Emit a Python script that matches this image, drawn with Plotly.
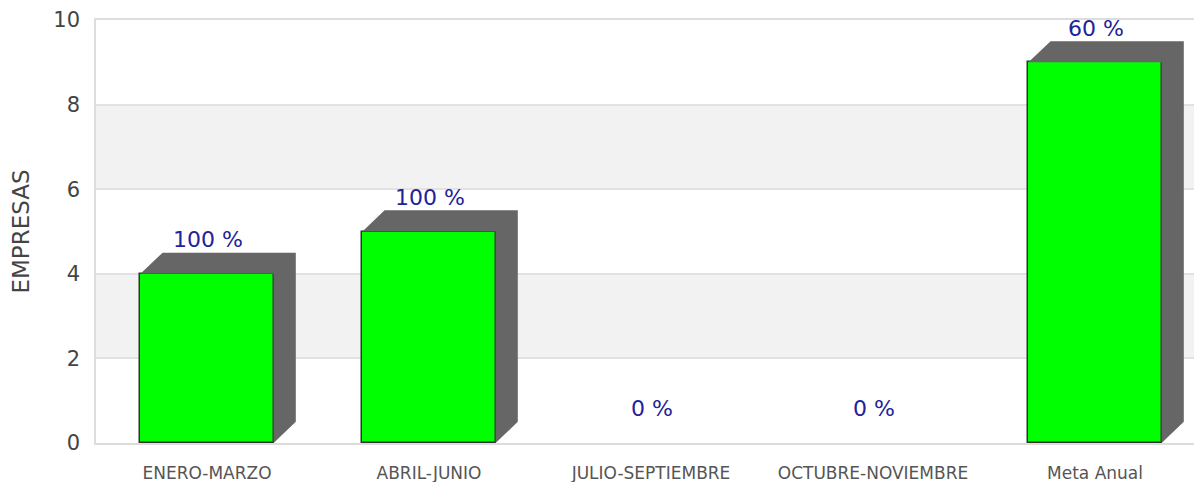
import plotly.graph_objects as go

categories = ["ENERO-MARZO", "ABRIL-JUNIO", "JULIO-SEPTIEMBRE", "OCTUBRE-NOVIEMBRE", "Meta Anual"]
empresas = [4, 5, 0, 0, 9]
porcentajes = ["100 %", "100 %", "0 %", "0 %", "60 %"]
y_ticks = [0, 2, 4, 6, 8, 10]

BAR_W = 0.6
DX = 0.1   # 3D depth in category units
DY = 0.5   # 3D depth in value units

xs = list(range(len(categories)))

fig = go.Figure()

# alternating bands
for lo, hi in [(2, 4), (6, 8)]:
    fig.add_shape(type="rect", xref="paper", yref="y", x0=0, x1=1, y0=lo, y1=hi,
                  fillcolor="#f2f2f2", line_width=0, layer="below")

# front faces
fig.add_trace(go.Bar(x=xs, y=empresas, width=BAR_W,
                     marker=dict(color="#00ff00",
                                 line=dict(color="#333333", width=[1.5 if v > 0 else 0 for v in empresas])),
                     hoverinfo="skip", showlegend=False))

# side and top faces
sx, sy = [], []
for i, v in zip(xs, empresas):
    if v <= 0:
        continue
    r = i + BAR_W / 2
    l = i - BAR_W / 2
    sx += [r, r + DX, r + DX, r, r, None]
    sy += [0, DY, v + DY, v, 0, None]
    sx += [l, l + DX, r + DX, r, l, None]
    sy += [v, v + DY, v + DY, v, v, None]
fig.add_trace(go.Scatter(x=sx, y=sy, mode="lines", fill="toself", fillcolor="#666666",
                         line=dict(width=0, color="#666666"), hoverinfo="skip", showlegend=False))

for i, v, t in zip(xs, empresas, porcentajes):
    fig.add_annotation(x=i, y=v + DY, text=t, showarrow=False, yshift=13, xshift=1,
                       font=dict(family="DejaVu Sans", size=22, color="#22229a"))

fig.update_layout(
    width=1198, height=474,
    margin=dict(l=88, r=0, t=12, b=39, autoexpand=False),
    paper_bgcolor="white", plot_bgcolor="white",
    bargap=0,
    font=dict(family="DejaVu Sans", color="#444444"),
    xaxis=dict(range=[-0.5, 4.5], tickvals=xs, ticktext=categories, showgrid=False, automargin=False,
               zeroline=False, showline=True, linecolor="#dddddd", linewidth=1.5, mirror=True,
               ticks="", ticklabelstandoff=14, tickfont=dict(size=17, color="#555555")),
    yaxis=dict(range=[0, 10], tickvals=y_ticks, showgrid=True, gridcolor="#e2e2e2", gridwidth=1.5,
               automargin=False,
               zeroline=False, showline=True, linecolor="#dddddd", linewidth=1.5, mirror=True,
               ticks="", ticklabelstandoff=10, tickfont=dict(size=21, color="#444444"),
               title=dict(text="EMPRESAS", font=dict(size=23, color="#444444"), standoff=22)),
)

fig.write_html("out.html")
